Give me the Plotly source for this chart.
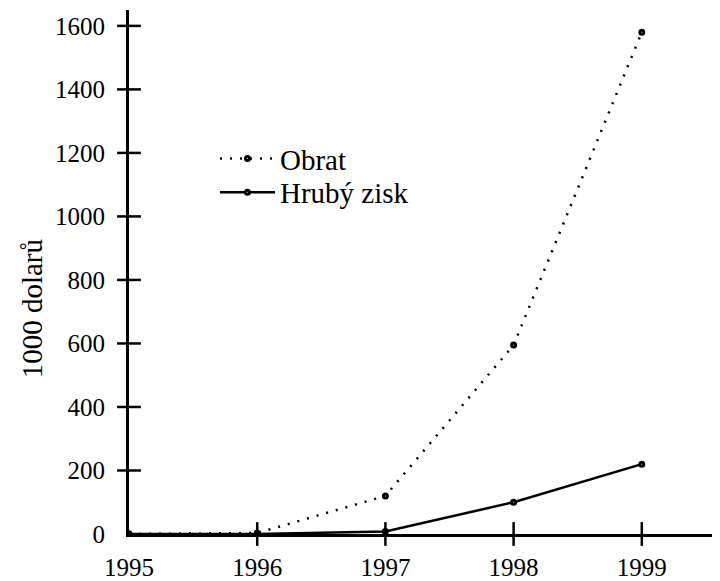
import plotly.graph_objects as go

years = [1995, 1996, 1997, 1998, 1999]
obrat = [0, 3, 120, 595, 1580]
hruby_zisk = [0, 0, 8, 100, 220]
x_ticks = [1995, 1996, 1997, 1998, 1999]
y_ticks = [0, 200, 400, 600, 800, 1000, 1200, 1400, 1600]
y_title = "1000 dolarů"

FONT = "Liberation Serif"
TICK_SIZE = 25
TEXT_SIZE = 29

xr = [1995, 1999.61]
yr = [0, 1650]

fig = go.Figure()
fig.add_trace(go.Scatter(
    x=years, y=obrat, name="Obrat", mode="lines+markers", legend="legend",
    line=dict(color="black", width=2.5, dash="2px,8px"),
    marker=dict(symbol="circle", size=4, color="white", line=dict(color="black", width=3)),
))
fig.add_trace(go.Scatter(
    x=years, y=hruby_zisk, name="Hrubý zisk", mode="lines+markers", legend="legend2",
    line=dict(color="black", width=2.5),
    marker=dict(symbol="circle", size=4, color="white", line=dict(color="black", width=3)),
))
# tick marks crossing the axes (drawn as line markers at the tick values)
fig.add_trace(go.Scatter(
    x=[xr[0]] * (len(y_ticks) - 1), y=y_ticks[1:], mode="markers", cliponaxis=False,
    marker=dict(symbol="line-ew-open", size=17, color="black",
                line=dict(color="black", width=2.5)),
    showlegend=False, hoverinfo="skip"))
fig.add_trace(go.Scatter(
    x=x_ticks[1:], y=[yr[0]] * (len(x_ticks) - 1), mode="markers", cliponaxis=False,
    marker=dict(symbol="line-ns-open", size=17, color="black",
                line=dict(color="black", width=2.5)),
    showlegend=False, hoverinfo="skip"))

leg_common = dict(xanchor="left", yanchor="top", bgcolor="rgba(0,0,0,0)",
                  font=dict(size=TEXT_SIZE), itemwidth=55)
fig.update_layout(
    width=712, height=573,
    margin=dict(l=121, r=0, t=2, b=43),
    plot_bgcolor="white", paper_bgcolor="white",
    font=dict(family=FONT, size=TEXT_SIZE, color="black"),
    showlegend=True,
    legend=dict(x=0.1455, y=0.765, **leg_common),
    legend2=dict(x=0.1455, y=0.7008, **leg_common),
    xaxis=dict(range=xr, tickvals=x_ticks, ticks="", showline=True, linecolor="black",
               linewidth=3, showgrid=False, zeroline=False, tickfont=dict(size=TICK_SIZE),
               ticklabelstandoff=9),
    yaxis=dict(range=yr, tickvals=y_ticks, ticks="", showline=True, linecolor="black",
               linewidth=3, showgrid=False, zeroline=False, tickfont=dict(size=TICK_SIZE),
               ticklabelstandoff=16),
    annotations=[dict(text=y_title, textangle=-90, xref="paper", yref="y",
                      x=-0.165, y=709, xanchor="center", yanchor="middle",
                      showarrow=False, font=dict(size=TEXT_SIZE))],
)
fig.write_html("out.html")
